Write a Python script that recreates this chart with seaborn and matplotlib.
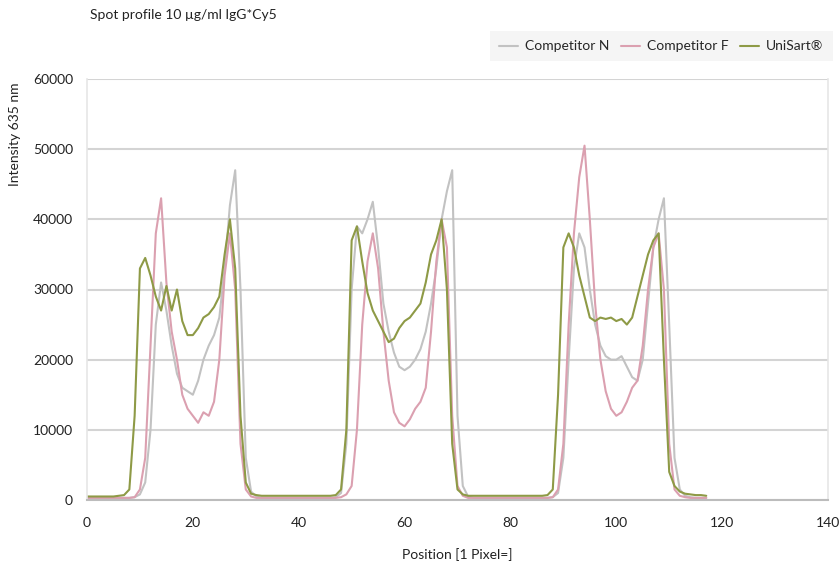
import matplotlib
matplotlib.use("Agg")
import matplotlib.pyplot as plt
import seaborn as sns
import pandas as pd
import numpy as np

# ---- data -------------------------------------------------------------
positions = list(range(0, 118))

competitor_n = [
    300, 300, 300, 300, 300, 300, 300, 300, 300, 400,            # 0-9
    800, 2500, 10000, 25000, 31000, 27000, 22000, 18000, 16000, 15500,   # 10-19
    15000, 17000, 20000, 22000, 23500, 26000, 33000, 42000, 47000, 30000,  # 20-29
    6000, 1200, 500, 300, 300, 300, 300, 300, 300, 300,          # 30-39
    300, 300, 300, 300, 300, 300, 300, 400, 1000, 8000,          # 40-49
    30000, 39000, 38000, 40000, 42500, 36000, 28000, 24000, 21000, 19000,  # 50-59
    18500, 19000, 20000, 21500, 24000, 28000, 33000, 40000, 44000, 47000,  # 60-69
    12000, 2000, 500, 300, 300, 300, 300, 300, 300, 300,         # 70-79
    300, 300, 300, 300, 300, 300, 300, 300, 400, 1000,           # 80-89
    6000, 20000, 33000, 38000, 36000, 30000, 25000, 22000, 20500, 20000,   # 90-99
    20000, 20500, 19000, 17500, 17000, 20000, 28000, 36000, 40000, 43000,  # 100-109
    25000, 6000, 1500, 600, 400, 300, 300, 300,                  # 110-117
]

competitor_f = [
    300, 300, 300, 300, 300, 300, 300, 300, 300, 400,
    1500, 6000, 22000, 38000, 43000, 31000, 24000, 20000, 15000, 13000,
    12000, 11000, 12500, 12000, 14000, 20000, 32000, 38000, 30000, 8000,
    1500, 500, 300, 300, 300, 300, 300, 300, 300, 300,
    300, 300, 300, 300, 300, 300, 300, 300, 400, 800,
    2000, 10000, 25000, 34000, 38000, 33000, 24000, 17000, 12500, 11000,
    10500, 11500, 13000, 14000, 16000, 24000, 34000, 40000, 36000, 12000,
    2000, 600, 300, 300, 300, 300, 300, 300, 300, 300,
    300, 300, 300, 300, 300, 300, 300, 300, 400, 1500,
    8000, 25000, 38000, 46000, 50500, 40000, 28000, 20000, 15500, 13000,
    12000, 12500, 14000, 16000, 17000, 22000, 30000, 36000, 38000, 30000,
    8000, 1500, 600, 400, 300, 300, 300, 300,
]

unisart = [
    500, 500, 500, 500, 500, 500, 600, 700, 1500, 12000,
    33000, 34500, 32000, 29000, 27000, 30500, 27000, 30000, 25500, 23500,
    23500, 24500, 26000, 26500, 27500, 29000, 35000, 40000, 33000, 12000,
    2500, 900, 700, 600, 600, 600, 600, 600, 600, 600,
    600, 600, 600, 600, 600, 600, 600, 700, 1500, 10000,
    37000, 39000, 34000, 29500, 27000, 25500, 24000, 22500, 23000, 24500,
    25500, 26000, 27000, 28000, 31000, 35000, 37000, 40000, 30000, 8000,
    1500, 800, 600, 600, 600, 600, 600, 600, 600, 600,
    600, 600, 600, 600, 600, 600, 600, 700, 1500, 15000,
    36000, 38000, 36000, 32000, 29000, 26000, 25500, 26000, 25800, 26000,
    25500, 25800, 25000, 26000, 29000, 32000, 35000, 37000, 38000, 20000,
    4000, 2000, 1200, 900, 800, 700, 700, 600,
]

series_names = ["Competitor N", "Competitor F", "UniSart\u00ae"]
x_ticks = [0, 20, 40, 60, 80, 100, 120, 140]
y_ticks = [0, 10000, 20000, 30000, 40000, 50000, 60000]

# ---- build long-form frame --------------------------------------------
df = pd.concat([
    pd.DataFrame({"Position": positions, "Intensity": vals, "Series": name})
    for name, vals in zip(series_names, [competitor_n, competitor_f, unisart])
], ignore_index=True)

# ---- style ------------------------------------------------------------
sns.set_style("white")
plt.rcParams["font.family"] = ["Lato", "DejaVu Sans"]
FS = 10

palette = {
    "Competitor N": "#c2c2c2",
    "Competitor F": "#dba0b0",
    "UniSart\u00ae": "#8e9a46",
}

fig = plt.figure(figsize=(8.39, 5.61), dpi=100)
ax = fig.add_axes([87 / 839, 1 - 500 / 561, (828 - 87) / 839, (500 - 79) / 561])

sns.lineplot(data=df, x="Position", y="Intensity", hue="Series",
             palette=palette, hue_order=series_names, linewidth=1.5,
             ax=ax, legend=True)

ax.set_xlim(0, 140)
ax.set_ylim(0, 60000)
ax.set_xticks(x_ticks)
ax.set_yticks(y_ticks)
ax.set_xticklabels([str(t) for t in x_ticks])
ax.set_yticklabels([str(t) for t in y_ticks])
ax.tick_params(axis="both", length=0, labelsize=FS, colors="#222222")
ax.tick_params(axis="x", pad=12)
ax.tick_params(axis="y", pad=10)
ax.yaxis.grid(True, color="#d4d4d4", linewidth=1.5)
ax.xaxis.grid(False)
ax.set_axisbelow(True)
for side in ["left", "right"]:
    ax.spines[side].set_color("#e6e6e6")
    ax.spines[side].set_linewidth(1.2)
ax.spines["top"].set_visible(False)
ax.spines["bottom"].set_color("#bcbcbc")
ax.spines["bottom"].set_linewidth(1.5)

ax.set_xlabel("Position [1 Pixel=]", fontsize=FS, color="#222222", labelpad=14)
ax.set_ylabel("")
fig.text(15 / 839, 1 - 134 / 561, "Intensity 635 nm", rotation=90,
         ha="center", va="center", fontsize=FS, color="#222222")

fig.text(90 / 839, 1 - 15 / 561, "Spot profile 10 \u00b5g/ml IgG*Cy5",
         ha="left", va="center", fontsize=FS, color="#222222")

leg = ax.legend(loc="lower right", bbox_to_anchor=(1.01, 1.035), ncol=3,
                frameon=True, fontsize=FS, handlelength=1.4, columnspacing=0.8,
                handletextpad=0.5, borderpad=0.35, title=None)
leg.get_frame().set_facecolor("#f3f3f3")
leg.get_frame().set_edgecolor("none")
leg.get_frame().set_boxstyle("square")

fig.savefig("out.png", dpi=100)
